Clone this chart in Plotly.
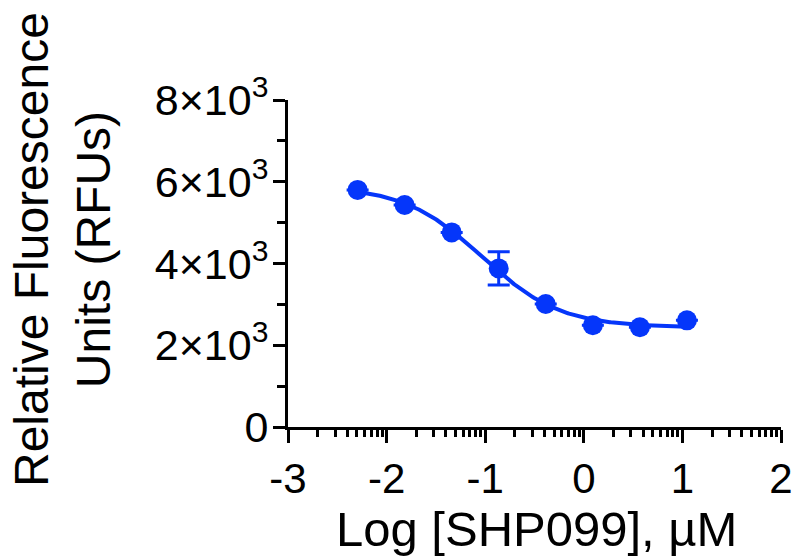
import numpy as np
import plotly.graph_objects as go

# ---- data ----
log_conc = [-2.294, -1.817, -1.340, -0.863, -0.386, 0.092, 0.569, 1.046]
rfu_mean = [5800, 5430, 4760, 3880, 3010, 2490, 2440, 2610]
rfu_err = [None, None, None, 405, None, None, None, None]

y_tickvals = [0, 2000, 4000, 6000, 8000]
y_ticktext = ["0", "2×10<sup>3</sup>", "4×10<sup>3</sup>", "6×10<sup>3</sup>", "8×10<sup>3</sup>"]
x_tickvals = [-3, -2, -1, 0, 1, 2]
x_ticktext = ["-3", "-2", "-1", "0", "1", "2"]

BLUE = "#0536FA"
FONT = "Arial, Liberation Sans, sans-serif"

# ---- 4-parameter logistic fit of the means (grid over logIC50/hill, linear top/bottom) ----
xd = np.array(log_conc, dtype=float)
yd = np.array(rfu_mean, dtype=float)
cs = np.arange(-2.0, 0.0, 0.002)[:, None, None]
hs = np.arange(0.4, 3.0, 0.005)[None, :, None]
f = 1.0 / (1.0 + 10 ** ((xd[None, None, :] - cs) * hs))
fm = f.mean(axis=2, keepdims=True)
ym = yd.mean()
sfy = ((f - fm) * (yd - ym)).sum(axis=2, keepdims=True)
sff = ((f - fm) ** 2).sum(axis=2, keepdims=True)
A = sfy / sff
B = ym - A * fm
sse = ((B + A * f - yd) ** 2).sum(axis=2)
i, j = np.unravel_index(np.argmin(sse), sse.shape)
c_fit = cs[i, 0, 0]
h_fit = hs[0, j, 0]
A_fit = A[i, j, 0]
B_fit = B[i, j, 0]
xc = np.linspace(xd.min(), xd.max(), 300)
yc = B_fit + A_fit / (1.0 + 10 ** ((xc - c_fit) * h_fit))

# log minor ticks on x
minor_x = [d + np.log10(k) for d in range(-3, 2) for k in range(2, 10)]

fig = go.Figure()
fig.add_trace(go.Scatter(x=xc, y=yc, mode="lines",
                         line=dict(color=BLUE, width=4), hoverinfo="skip",
                         showlegend=False))
fig.add_trace(go.Scatter(x=log_conc, y=rfu_mean, mode="markers",
                         marker=dict(color=BLUE, size=20, line=dict(width=0)),
                         error_y=dict(type="data", array=rfu_err, visible=True,
                                      color=BLUE, thickness=3, width=11),
                         showlegend=False))

W, H = 796, 560
L, R, T, Bm = 288, 781, 100, 427

fig.update_layout(
    template="none",
    width=W, height=H,
    margin=dict(l=L, r=W - R, t=T, b=H - Bm, autoexpand=False),
    paper_bgcolor="white", plot_bgcolor="white",
    font=dict(family=FONT, color="black"),
)
fig.update_xaxes(
    range=[-3, 2], tickvals=x_tickvals, ticktext=x_ticktext, automargin=False,
    showgrid=False, zeroline=False, showline=True, linecolor="black", linewidth=3,
    ticks="outside", ticklen=13, tickwidth=3, tickcolor="black",
    tickfont=dict(size=42, family=FONT, color="black"),
    minor=dict(tickvals=minor_x, ticks="outside", ticklen=7, tickwidth=3, tickcolor="black", showgrid=False),
)
fig.update_yaxes(
    range=[0, 8000], tickvals=y_tickvals, ticktext=y_ticktext, automargin=False,
    showgrid=False, zeroline=False, showline=True, linecolor="black", linewidth=3,
    ticks="outside", ticklen=12, tickwidth=3, tickcolor="black", ticklabelstandoff=-4,
    tickfont=dict(size=43, family=FONT, color="black"),
    minor=dict(tickvals=[1000, 3000, 5000, 7000], ticks="outside", ticklen=8, tickwidth=3, tickcolor="black", showgrid=False),
)

def px_x(p):
    return (p - L) / (R - L)

def px_y(p):
    return (Bm - p) / (Bm - T)

fig.add_annotation(text="Log [SHP099], µM", xref="paper", yref="paper",
                   x=px_x(536), y=px_y(529), xanchor="center", yanchor="middle",
                   showarrow=False, font=dict(size=49, family=FONT, color="black"))
fig.add_annotation(text="Relative Fluorescence<br>Units (RFUs)", xref="paper", yref="paper",
                   x=px_x(62), y=px_y(250), xanchor="center", yanchor="middle",
                   textangle=-90, showarrow=False,
                   font=dict(size=48, family=FONT, color="black"))

fig.write_html("out.html", config={"displayModeBar": False},
               post_script="document.body.style.margin='0';document.body.style.overflow='hidden';")
